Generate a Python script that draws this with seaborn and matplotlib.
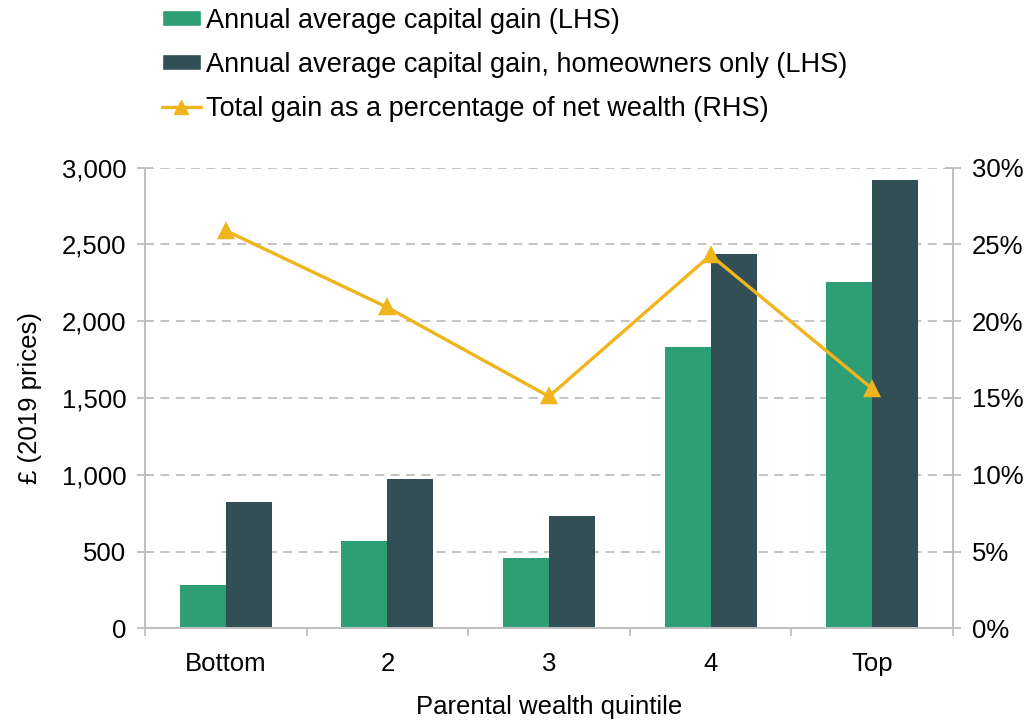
import pandas as pd
import matplotlib.pyplot as plt
import seaborn as sns
from matplotlib.patches import Patch
from matplotlib.lines import Line2D
from matplotlib.ticker import FuncFormatter, FixedLocator

quintiles = ['Bottom', '2', '3', '4', 'Top']
gain_all = [280, 570, 456, 1832, 2254]
gain_owners = [820, 975, 733, 2437, 2920]
pct_wealth = [25.9, 20.9, 15.1, 24.3, 15.6]

series_names = ['Annual average capital gain (LHS)',
                'Annual average capital gain, homeowners only (LHS)']
line_name = 'Total gain as a percentage of net wealth (RHS)'

green = '#2E9E74'
dark = '#324F55'
gold = '#F0B41C'
grey = '#BFBFBF'

df = pd.DataFrame({
    'quintile': quintiles * 2,
    'gain': gain_all + gain_owners,
    'series': [series_names[0]] * 5 + [series_names[1]] * 5,
})

sns.set_theme(style='white')
plt.rcParams['font.family'] = ['Liberation Sans', 'DejaVu Sans']
plt.rcParams['text.color'] = 'black'
plt.rcParams['axes.labelcolor'] = 'black'
plt.rcParams['xtick.labelcolor'] = 'black'
plt.rcParams['ytick.labelcolor'] = 'black'

fig = plt.figure(figsize=(10.34, 7.24), dpi=100)
ax = fig.add_axes([0.1402, 0.1322, 0.7815, 0.6362])

sns.barplot(data=df, x='quintile', y='gain', hue='series', order=quintiles,
            hue_order=series_names, palette=[green, dark], width=0.57,
            gap=0, linewidth=0, saturation=1, legend=False, ax=ax)

ax2 = ax.twinx()
sns.pointplot(x=quintiles, y=pct_wealth, order=quintiles, color=gold,
              marker='^', markersize=10, linewidth=2.4, errorbar=None, ax=ax2)

ax.set_ylim(0, 3000)
ax2.set_ylim(0, 30)
ax.set_xlim(-0.5, 4.5)

ax.set_yticks(range(0, 3001, 500))
ax.yaxis.set_major_formatter(FuncFormatter(lambda v, p: f'{v:,.0f}'))
ax2.set_yticks(range(0, 31, 5))
ax2.yaxis.set_major_formatter(FuncFormatter(lambda v, p: f'{v:.0f}%'))

ax.set_axisbelow(True)
ax.yaxis.grid(True, color=grey, linestyle=(0, (5, 3.5)), linewidth=1.3)
ax.xaxis.grid(False)
ax2.grid(False)

for a in (ax, ax2):
    for s in a.spines.values():
        s.set_color(grey)
        s.set_linewidth(1.3)
    a.spines['top'].set_visible(False)

ax.tick_params(axis='y', direction='inout', length=11, width=1.3, color=grey,
               labelsize=18.5, pad=8, left=True, labelcolor='black')
ax2.tick_params(axis='y', direction='inout', length=11, width=1.3, color=grey,
                labelsize=18.5, pad=8, right=True, labelcolor='black')
ax.set_xticks(range(len(quintiles)))
ax.set_xticklabels(quintiles)
ax.xaxis.set_minor_locator(FixedLocator([i - 0.5 for i in range(len(quintiles) + 1)]))
ax.tick_params(axis='x', which='major', length=0, labelsize=18.5, pad=17,
               labelcolor='black')
ax.tick_params(axis='x', which='minor', direction='out', length=6, width=1.3,
               color=grey, bottom=True)

ax.set_xlabel('Parental wealth quintile', fontsize=18.5, labelpad=14, color='black')
ax.set_ylabel('£ (2019 prices)', fontsize=18.5, labelpad=14, color='black')
ax2.set_ylabel('')

handles = [Patch(facecolor=green, label=series_names[0]),
           Patch(facecolor=dark, label=series_names[1]),
           Line2D([], [], color=gold, linewidth=2.4, marker='^', markersize=10,
                  label=line_name)]
fig.legend(handles=handles, loc='upper left', bbox_to_anchor=(0.151, 0.997),
           frameon=False, fontsize=19.5, handlelength=1.45, handleheight=0.5,
           handletextpad=0.2, labelspacing=0.67, borderaxespad=0.1, borderpad=0.1,
           labelcolor='black')

fig.savefig('out.png', dpi=100)
